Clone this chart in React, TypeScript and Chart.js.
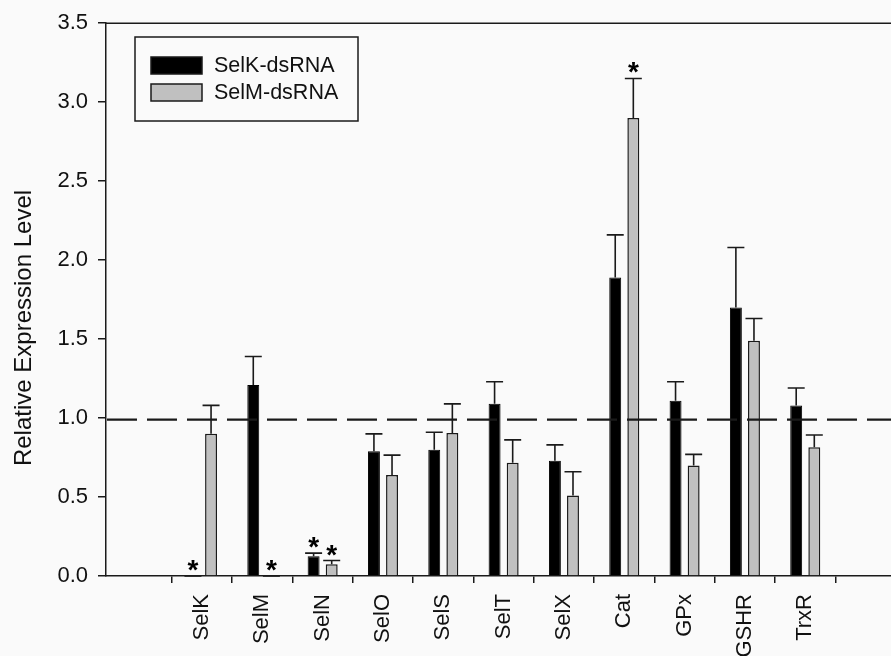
import React, { useEffect, useRef } from "react";
import { Chart, registerables } from "chart.js";

Chart.register(...registerables);

const categories = ["SelK", "SelM", "SelN", "SelO", "SelS", "SelT", "SelX", "Cat", "GPx", "GSHR", "TrxR"];
const seriesNames = ["SelK-dsRNA", "SelM-dsRNA"];
const selKValues = [0, 1.21, 0.125, 0.79, 0.8, 1.09, 0.73, 1.89, 1.11, 1.7, 1.08];
const selKErrors = [0, 0.18, 0.02, 0.11, 0.11, 0.14, 0.1, 0.27, 0.12, 0.38, 0.11];
const selKSignificant = [true, false, true, false, false, false, false, false, false, false, false];
const selMValues = [0.9, 0, 0.075, 0.64, 0.905, 0.717, 0.51, 2.9, 0.7, 1.49, 0.815];
const selMErrors = [0.18, 0, 0.023, 0.125, 0.185, 0.145, 0.15, 0.25, 0.07, 0.14, 0.078];
const selMSignificant = [false, true, true, false, false, false, false, true, false, false, false];
const yTicks = [0, 0.5, 1.0, 1.5, 2.0, 2.5, 3.0, 3.5];
const referenceLevel = 0.99;
const yTitle = "Relative Expression Level";

const errorsBySeries = [selKErrors, selMErrors];
const sigBySeries = [selKSignificant, selMSignificant];
const FONT = "'Liberation Sans', Arial, Helvetica, sans-serif";
const INK = "#1a1a1a";
const TICK_SIZE = 22;

const overlay = {
  id: "overlay",
  beforeDraw(chart: any) {
    const { ctx, width, height } = chart;
    ctx.save();
    ctx.fillStyle = "#fafafa";
    ctx.fillRect(0, 0, width, height);
    ctx.restore();
  },
  afterDatasetsDraw(chart: any) {
    const { ctx, chartArea } = chart;
    const y = chart.scales.y;
    ctx.save();
    // dashed reference line
    const ry = y.getPixelForValue(referenceLevel);
    ctx.strokeStyle = INK;
    ctx.lineWidth = 2.4;
    ctx.setLineDash([30, 10]);
    ctx.beginPath();
    ctx.moveTo(chartArea.left + 1, ry);
    ctx.lineTo(chartArea.right, ry);
    ctx.stroke();
    ctx.setLineDash([]);

    // error bars + asterisks
    ctx.lineWidth = 1.6;
    ctx.fillStyle = "#000";
    ctx.font = `bold 28px ${FONT}`;
    ctx.textAlign = "center";
    ctx.textBaseline = "alphabetic";
    chart.data.datasets.forEach((ds: any, di: number) => {
      const meta = chart.getDatasetMeta(di);
      const errs = errorsBySeries[di];
      const sig = sigBySeries[di];
      meta.data.forEach((bar: any, i: number) => {
        const v = ds.data[i].y;
        const top = y.getPixelForValue(v + errs[i]);
        ctx.beginPath();
        ctx.moveTo(bar.x, bar.y);
        ctx.lineTo(bar.x, top);
        ctx.moveTo(bar.x - 8.5, top);
        ctx.lineTo(bar.x + 8.5, top);
        ctx.stroke();
        if (sig[i]) {
          ctx.fillText("*", bar.x, top + 3);
        }
      });
    });

    // top frame line
    ctx.lineWidth = 1.5;
    ctx.beginPath();
    ctx.moveTo(chartArea.left, chartArea.top);
    ctx.lineTo(chartArea.right, chartArea.top);
    ctx.stroke();

    // legend
    const lx = 135, ly = 37, lw = 223, lh = 84;
    ctx.fillStyle = "#fafafa";
    ctx.fillRect(lx, ly, lw, lh);
    ctx.strokeStyle = INK;
    ctx.lineWidth = 1.5;
    ctx.strokeRect(lx, ly, lw, lh);
    ctx.font = `21.5px ${FONT}`;
    ctx.textAlign = "left";
    ctx.textBaseline = "middle";
    chart.data.datasets.forEach((ds: any, di: number) => {
      const sy = 57 + di * 27;
      ctx.fillStyle = ds.backgroundColor;
      ctx.fillRect(151, sy, 51, 17);
      ctx.strokeStyle = INK;
      ctx.lineWidth = 1.5;
      ctx.strokeRect(151, sy, 51, 17);
      ctx.fillStyle = "#111";
      ctx.fillText(ds.label, 214, sy + 9);
    });

    // y-axis title
    ctx.translate(24, 328);
    ctx.rotate(-Math.PI / 2);
    ctx.font = `24px ${FONT}`;
    ctx.textAlign = "center";
    ctx.textBaseline = "middle";
    ctx.fillStyle = "#111";
    ctx.fillText(yTitle, 0, 0);
    ctx.restore();
  },
};

export default function App() {
  const ref = useRef<HTMLCanvasElement | null>(null);
  useEffect(() => {
    if (!ref.current) return;
    Chart.defaults.font.family = FONT;
    const chart = new Chart(ref.current, {
      type: "bar",
      data: {
        datasets: [
          {
            label: seriesNames[0],
            data: selKValues.map((v, i) => ({ x: i + 1, y: v })),
            backgroundColor: "#000000",
            borderColor: "#000000",
            borderWidth: 1,
            categoryPercentage: 0.6,
            barPercentage: 0.66,
          },
          {
            label: seriesNames[1],
            data: selMValues.map((v, i) => ({ x: i + 1, y: v })),
            backgroundColor: "#c0c0c0",
            borderColor: INK,
            borderWidth: 1.5,
            categoryPercentage: 0.6,
            barPercentage: 0.66,
          },
        ],
      },
      options: {
        animation: false,
        responsive: false,
        devicePixelRatio: 1,
        layout: { padding: { top: 17, right: 0, bottom: 0, left: 0 } },
        plugins: { legend: { display: false }, tooltip: { enabled: false } },
        scales: {
          x: {
            type: "linear",
            min: 0,
            max: 11.83,
            afterBuildTicks: (scale: any) => {
              scale.ticks = categories.map((_, i) => ({ value: i + 1 }));
            },
            afterFit: (scale: any) => {
              scale.height = 80;
            },
            ticks: {
              stepSize: 1,
              autoSkip: false,
              minRotation: 90,
              maxRotation: 90,
              padding: 11,
              color: "#111",
              font: { size: TICK_SIZE, family: FONT },
              callback: (v: any) => categories[Number(v) - 1] ?? "",
            },
            grid: { drawOnChartArea: false, drawTicks: true, tickLength: 7, color: INK, lineWidth: 1.5 },
            border: { display: true, color: INK, width: 1.5 },
          },
          y: {
            min: 0,
            max: 3.5,
            afterBuildTicks: (scale: any) => {
              scale.ticks = yTicks.map((v) => ({ value: v }));
            },
            afterFit: (scale: any) => {
              scale.width = 106;
            },
            ticks: {
              padding: 10,
              color: "#111",
              font: { size: TICK_SIZE, family: FONT },
              callback: (v: any) => Number(v).toFixed(1),
            },
            grid: { drawOnChartArea: false, drawTicks: true, tickLength: 8, color: INK, lineWidth: 1.5 },
            border: { display: true, color: INK, width: 1.5 },
          },
        },
      },
      plugins: [overlay],
    } as any);
    return () => chart.destroy();
  }, []);
  return (
    <div style={{ position: "fixed", left: 0, top: 0, width: 891, height: 656, background: "#fafafa" }}>
      <canvas ref={ref} width={891} height={656} style={{ width: 891, height: 656, display: "block" }} />
    </div>
  );
}
